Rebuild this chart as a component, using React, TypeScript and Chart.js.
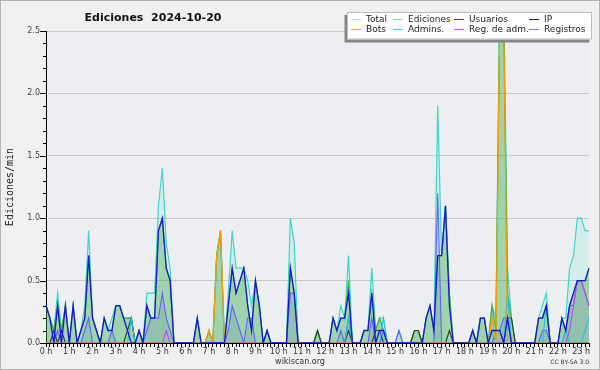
import React, { useEffect, useRef } from 'react';
import { Chart, registerables } from 'chart.js';

Chart.register(...registerables);

const TITLE = 'Ediciones  2024-10-20';
const Y_TITLE = 'Ediciones/min';
const FOOTER = 'wikiscan.org';
const LICENSE = 'CC BY-SA 3.0';

const HOUR_TICKS = ['0 h', '1 h', '2 h', '3 h', '4 h', '5 h', '6 h', '7 h', '8 h', '9 h', '10 h', '11 h',
  '12 h', '13 h', '14 h', '15 h', '16 h', '17 h', '18 h', '19 h', '20 h', '21 h', '22 h', '23 h'];
const MINUTES = ['00', '10', '20', '30', '40', '50'];
const LAST_SLOT = '23:20';

const Y_TICKS = [0, 0.1, 0.2, 0.3, 0.4, 0.5, 0.6, 0.7, 0.8, 0.9, 1.0, 1.1, 1.2, 1.3, 1.4, 1.5,
  1.6, 1.7, 1.8, 1.9, 2.0, 2.1, 2.2, 2.3, 2.4, 2.5];
const Y_MAX = 2.5;

const TOTAL = [
  0.3, 0.2, 0.1, 0.4, 0.1, 0.3, // 0 h
  0, 0.3, 0, 0.1, 0.3, 0.9, // 1 h
  0.2, 0.1, 0, 0.2, 0.1, 0.2, // 2 h
  0.3, 0.3, 0.2, 0.2, 0.2, 0, // 3 h
  0.1, 0, 0.4, 0.4, 0.4, 1.1, // 4 h
  1.4, 0.8, 0.6, 0, 0, 0, // 5 h
  0, 0, 0, 0.2, 0, 0, // 6 h
  0.1, 0, 0.7, 0.9, 0, 0.4, // 7 h
  0.9, 0.6, 0.6, 0.6, 0.5, 0.3, // 8 h
  0.5, 0.3, 0, 0.1, 0, 0, // 9 h
  0, 0, 0, 1.0, 0.8, 0, // 10 h
  0, 0, 0, 0, 0.1, 0, // 11 h
  0, 0, 0.2, 0.1, 0.3, 0.2, // 12 h
  0.7, 0, 0, 0, 0.1, 0.1, // 13 h
  0.6, 0.1, 0.2, 0.2, 0, 0, // 14 h
  0, 0.1, 0, 0, 0, 0.1, // 15 h
  0.1, 0, 0.2, 0.3, 0.1, 1.9, // 16 h
  0.7, 1.1, 0.4, 0, 0, 0, // 17 h
  0, 0, 0.1, 0, 0.2, 0.2, // 18 h
  0, 0.3, 0.2, 2.8, 2.8, 0.6, // 19 h
  0.2, 0, 0, 0, 0, 0, // 20 h
  0, 0.2, 0.3, 0.4, 0, 0, // 21 h
  0, 0.2, 0.2, 0.6, 0.7, 1.0, // 22 h
  1.0, 0.9, 0.9, // 23 h
];

const EDICIONES = [
  0.3, 0.2, 0.1, 0.3, 0.1, 0.3,
  0, 0.3, 0, 0.1, 0.2, 0.7,
  0.2, 0.1, 0, 0.2, 0.1, 0.1,
  0.3, 0.3, 0.2, 0.2, 0.2, 0,
  0.1, 0, 0.3, 0.2, 0.2, 0.9,
  1.0, 0.6, 0.5, 0, 0, 0,
  0, 0, 0, 0.2, 0, 0,
  0.1, 0, 0.7, 0.9, 0, 0.3,
  0.6, 0.4, 0.5, 0.6, 0.3, 0.1,
  0.5, 0.3, 0, 0.1, 0, 0,
  0, 0, 0, 0.6, 0.4, 0,
  0, 0, 0, 0, 0.1, 0,
  0, 0, 0.2, 0.1, 0.2, 0.2,
  0.5, 0, 0, 0, 0.1, 0.1,
  0.4, 0.1, 0.2, 0.1, 0, 0,
  0, 0, 0, 0, 0, 0.1,
  0.1, 0, 0.2, 0.3, 0.1, 0.7,
  0.7, 1.1, 0.4, 0, 0, 0,
  0, 0, 0.1, 0, 0.2, 0.2,
  0, 0.3, 0.1, 2.7, 2.6, 0.4,
  0.2, 0, 0, 0, 0, 0,
  0, 0.2, 0.2, 0.3, 0, 0,
  0, 0.2, 0.1, 0.3, 0.4, 0.5,
  0.5, 0.5, 0.6,
];

const USUARIOS = [
  0.3, 0.2, 0, 0.3, 0, 0.3,
  0, 0.3, 0, 0.1, 0.2, 0.7,
  0.2, 0.1, 0, 0.2, 0.1, 0.1,
  0.3, 0.3, 0.2, 0.1, 0, 0,
  0.1, 0, 0.3, 0.2, 0.2, 0.9,
  1.0, 0.6, 0.5, 0, 0, 0,
  0, 0, 0, 0.2, 0, 0,
  0, 0, 0, 0, 0, 0.3,
  0.6, 0.4, 0.5, 0.6, 0.3, 0.1,
  0.5, 0.3, 0, 0.1, 0, 0,
  0, 0, 0, 0.6, 0.4, 0,
  0, 0, 0, 0, 0, 0,
  0, 0, 0.2, 0.1, 0.2, 0.2,
  0.4, 0, 0, 0, 0.1, 0.1,
  0.4, 0, 0.1, 0.1, 0, 0,
  0, 0, 0, 0, 0, 0,
  0, 0, 0.2, 0.3, 0.1, 0.7,
  0.7, 1.1, 0.3, 0, 0, 0,
  0, 0, 0.1, 0, 0.2, 0.2,
  0, 0.1, 0.1, 0.1, 0, 0.2,
  0, 0, 0, 0, 0, 0,
  0, 0.2, 0.2, 0.3, 0, 0,
  0, 0.2, 0.1, 0.3, 0.4, 0.5,
  0.5, 0.5, 0.6,
];

const IP = [
  0, 0, 0.1, 0, 0.1, 0,
  0, 0, 0, 0, 0, 0,
  0, 0, 0, 0, 0, 0,
  0, 0, 0, 0.1, 0.2, 0,
  0, 0, 0, 0, 0, 0,
  0, 0, 0, 0, 0, 0,
  0, 0, 0, 0, 0, 0,
  0, 0, 0, 0, 0, 0,
  0, 0, 0, 0, 0, 0,
  0, 0, 0, 0, 0, 0,
  0, 0, 0, 0, 0, 0,
  0, 0, 0, 0, 0.1, 0,
  0, 0, 0, 0, 0, 0,
  0.1, 0, 0, 0, 0, 0,
  0, 0.1, 0.1, 0, 0, 0,
  0, 0, 0, 0, 0, 0.1,
  0.1, 0, 0, 0, 0, 0,
  0, 0, 0.1, 0, 0, 0,
  0, 0, 0, 0, 0, 0,
  0, 0, 0, 0, 0, 0.2,
  0.2, 0, 0, 0, 0, 0,
  0, 0, 0, 0, 0, 0,
  0, 0, 0, 0, 0, 0,
  0, 0, 0,
];

const BOTS = [
  0, 0, 0, 0, 0, 0,
  0, 0, 0, 0, 0, 0,
  0, 0, 0, 0, 0, 0,
  0, 0, 0, 0, 0, 0,
  0, 0, 0, 0, 0, 0,
  0, 0, 0, 0, 0, 0,
  0, 0, 0, 0, 0, 0,
  0.1, 0, 0.7, 0.9, 0, 0,
  0, 0, 0, 0, 0, 0,
  0, 0, 0, 0, 0, 0,
  0, 0, 0, 0, 0, 0,
  0, 0, 0, 0, 0, 0,
  0, 0, 0, 0, 0, 0,
  0, 0, 0, 0, 0, 0,
  0, 0, 0, 0, 0, 0,
  0, 0, 0, 0, 0, 0,
  0, 0, 0, 0, 0, 0,
  0, 0, 0, 0, 0, 0,
  0, 0, 0, 0, 0, 0,
  0, 0.2, 0, 2.6, 2.6, 0,
  0, 0, 0, 0, 0, 0,
  0, 0, 0, 0, 0, 0,
  0, 0, 0, 0, 0, 0,
  0, 0, 0,
];

const ADMINS = [
  0, 0, 0, 0, 0, 0,
  0, 0, 0, 0, 0, 0,
  0, 0, 0, 0, 0, 0,
  0, 0, 0, 0, 0.2, 0,
  0, 0, 0, 0, 0, 0,
  0, 0, 0, 0, 0, 0,
  0, 0, 0, 0, 0, 0,
  0, 0, 0, 0, 0, 0,
  0, 0, 0, 0, 0, 0,
  0, 0, 0, 0, 0, 0,
  0, 0, 0, 0, 0, 0,
  0, 0, 0, 0, 0, 0,
  0, 0, 0, 0, 0, 0,
  0.2, 0, 0, 0, 0, 0,
  0, 0, 0, 0.2, 0, 0,
  0, 0, 0, 0, 0, 0,
  0, 0, 0, 0, 0, 0,
  0, 0, 0, 0, 0, 0,
  0, 0, 0, 0, 0, 0,
  0, 0.1, 0, 0, 0, 0.4,
  0, 0, 0, 0, 0, 0,
  0, 0, 0, 0.3, 0, 0,
  0, 0, 0.1, 0, 0, 0,
  0, 0.1, 0.2,
];

const REG_ADM = [
  0, 0, 0, 0, 0, 0,
  0, 0, 0, 0, 0, 0,
  0, 0, 0, 0, 0, 0,
  0, 0, 0, 0, 0, 0,
  0, 0, 0, 0, 0, 0,
  0, 0.1, 0, 0, 0, 0,
  0, 0, 0, 0, 0, 0,
  0, 0, 0, 0, 0, 0,
  0, 0, 0, 0, 0, 0,
  0, 0, 0, 0, 0, 0,
  0, 0, 0, 0, 0, 0,
  0, 0, 0, 0, 0, 0,
  0, 0, 0, 0, 0, 0,
  0, 0, 0, 0, 0, 0,
  0, 0, 0, 0, 0, 0,
  0, 0, 0, 0, 0, 0,
  0, 0, 0, 0, 0, 0,
  0, 0, 0, 0, 0, 0,
  0, 0, 0, 0, 0, 0,
  0, 0, 0, 0, 0, 0,
  0, 0, 0, 0, 0, 0,
  0, 0, 0, 0, 0, 0,
  0, 0, 0, 0.1, 0.3, 0.5,
  0.5, 0.4, 0.3,
];

const REGISTROS = [
  0, 0, 0, 0.1, 0, 0,
  0, 0, 0, 0, 0.1, 0.2,
  0, 0, 0, 0, 0, 0.1,
  0, 0, 0, 0, 0, 0,
  0, 0, 0.1, 0.2, 0.2, 0.2,
  0.4, 0.2, 0.1, 0, 0, 0,
  0, 0, 0, 0, 0, 0,
  0, 0, 0, 0, 0, 0.1,
  0.3, 0.2, 0.1, 0, 0.2, 0.2,
  0, 0, 0, 0, 0, 0,
  0, 0, 0, 0.4, 0.4, 0,
  0, 0, 0, 0, 0, 0,
  0, 0, 0, 0, 0.1, 0,
  0.2, 0, 0, 0, 0, 0,
  0.2, 0, 0, 0.1, 0, 0,
  0, 0.1, 0, 0, 0, 0,
  0, 0, 0, 0, 0, 1.2,
  0, 0, 0, 0, 0, 0,
  0, 0, 0, 0, 0, 0,
  0, 0, 0.1, 0.1, 0.2, 0.2,
  0, 0, 0, 0, 0, 0,
  0, 0, 0.1, 0.1, 0, 0,
  0, 0, 0.1, 0.3, 0.3, 0.5,
  0.5, 0.4, 0.3,
];

// categories (10-minute slots) built from the hour/minute lists
const CATEGORIES: string[] = [];
outer: for (let h = 0; h < HOUR_TICKS.length; h++) {
  for (const m of MINUTES) {
    const slot = `${h}:${m}`;
    CATEGORIES.push(slot);
    if (slot === LAST_SLOT) break outer;
  }
}

type Series = { label: string; data: number[]; color: string; legend: string; fill?: string; order: number; width: number };

const SERIES: Series[] = [
  { label: 'Total', data: TOTAL, color: '#3fd6c6', legend: '#a6e6de', fill: 'rgba(64,224,208,0.13)', order: 8, width: 1.2 },
  { label: 'Ediciones', data: EDICIONES, color: '#44b244', legend: '#8ed68e', fill: 'rgba(50,160,50,0.33)', order: 7, width: 1.2 },
  { label: 'Usuarios', data: USUARIOS, color: '#1616d6', legend: '#3434dc', order: 1, width: 1.3 },
  { label: 'IP', data: IP, color: '#303830', legend: '#222222', order: 5, width: 1.1 },
  { label: 'Bots', data: BOTS, color: '#ff9a00', legend: '#ffa030', order: 2, width: 1.2 },
  { label: 'Admins.', data: ADMINS, color: '#22c2e6', legend: '#44c8e8', order: 4, width: 1.1 },
  { label: 'Reg. de adm.', data: REG_ADM, color: '#c644ee', legend: '#d050f0', order: 3, width: 1.1 },
  { label: 'Registros', data: REGISTROS, color: '#6262ff', legend: '#7a7aff', fill: 'rgba(70,90,170,0.14)', order: 6, width: 1.1 },
];

const isMajor = (v: number) => Math.abs(v * 2 - Math.round(v * 2)) < 1e-6;

const decor = {
  id: 'decor',
  beforeDraw(chart: any) {
    const { ctx, chartArea: a, width, height } = chart;
    ctx.save();
    ctx.fillStyle = '#f0f0f0';
    ctx.fillRect(0, 0, width, height);
    ctx.strokeStyle = '#b2b2b2';
    ctx.lineWidth = 1;
    ctx.strokeRect(0.5, 0.5, width - 1, height - 1);
    ctx.fillStyle = '#eceef1';
    ctx.fillRect(a.left, a.top, a.right - a.left, a.bottom - a.top);
    ctx.restore();
  },
  afterDraw(chart: any) {
    const { ctx, chartArea: a } = chart;
    const ys = chart.scales.y;
    ctx.save();
    // y tick marks (major / minor)
    ctx.strokeStyle = '#000';
    ctx.lineWidth = 1;
    for (const v of Y_TICKS) {
      const py = Math.round(ys.getPixelForValue(v)) + 0.5;
      const len = isMajor(v) ? 6 : 3;
      ctx.beginPath();
      ctx.moveTo(a.left - len, py);
      ctx.lineTo(a.left, py);
      ctx.stroke();
    }
    // title
    ctx.fillStyle = '#111';
    ctx.font = 'bold 11px "DejaVu Sans"';
    ctx.textAlign = 'center';
    ctx.textBaseline = 'alphabetic';
    ctx.fillText(TITLE, 153, 21);
    // legend
    const LX = 347, LY = 12, LW = 245, LH = 27.5;
    ctx.fillStyle = '#868686';
    ctx.fillRect(LX - 2.5, LY + 3, LW, LH);
    ctx.fillStyle = '#ffffff';
    ctx.fillRect(LX, LY, LW, LH);
    ctx.strokeStyle = '#bbbbbb';
    ctx.strokeRect(LX + 0.5, LY + 0.5, LW - 1, LH - 1);
    const cols = [351, 393, 454, 529];
    const rows = [19.5, 29.5];
    ctx.font = '9px "DejaVu Sans"';
    ctx.textAlign = 'left';
    ctx.textBaseline = 'middle';
    SERIES.forEach((s, k) => {
      const cx = cols[k % 4];
      const cy = rows[Math.floor(k / 4)];
      ctx.strokeStyle = s.legend;
      ctx.lineWidth = 1;
      ctx.beginPath();
      ctx.moveTo(cx, cy);
      ctx.lineTo(cx + 10, cy);
      ctx.stroke();
      ctx.fillStyle = '#222';
      ctx.fillText(s.label, cx + 15, cy);
    });
    // footer
    ctx.textBaseline = 'alphabetic';
    ctx.fillStyle = '#333';
    ctx.font = '8px "DejaVu Sans"';
    ctx.textAlign = 'center';
    ctx.fillText(FOOTER, 300, 364);
    ctx.font = '6px "DejaVu Sans"';
    ctx.textAlign = 'right';
    ctx.fillText(LICENSE, 589, 363.5);
    ctx.restore();
  },
};

export default function App() {
  const ref = useRef<HTMLCanvasElement>(null);
  useEffect(() => {
    document.body.style.margin = '0';
    const chart = new Chart(ref.current as HTMLCanvasElement, {
      type: 'line',
      data: {
        labels: CATEGORIES,
        datasets: SERIES.map((s) => ({
          label: s.label,
          data: s.data,
          borderColor: s.color,
          backgroundColor: s.fill || 'rgba(0,0,0,0)',
          fill: s.fill ? 'origin' : false,
          borderWidth: s.width,
          pointRadius: 0,
          pointHoverRadius: 0,
          tension: 0,
          order: s.order,
        })),
      },
      options: {
        responsive: false,
        animation: false,
        devicePixelRatio: 1,
        events: [],
        layout: { padding: { left: 0, right: 11, top: 31, bottom: 9 } },
        plugins: {
          legend: { display: false },
          tooltip: { enabled: false },
          title: { display: false },
        },
        scales: {
          x: {
            type: 'category',
            offset: false,
            grid: { drawOnChartArea: false, drawTicks: true, tickLength: 4, tickColor: '#000', lineWidth: 1 },
            border: { display: true, color: '#000', width: 1 },
            ticks: {
              autoSkip: false,
              maxRotation: 0,
              minRotation: 0,
              padding: 0,
              color: '#333',
              font: { family: 'DejaVu Sans', size: 8 },
              callback: (_v: any, i: number) => (i % MINUTES.length === 0 ? HOUR_TICKS[i / MINUTES.length] : ''),
            },
            afterFit: (s: any) => { s.height = 18; },
          },
          y: {
            type: 'linear',
            min: 0,
            max: Y_MAX,
            afterBuildTicks: (s: any) => { s.ticks = Y_TICKS.map((v) => ({ value: v })); },
            grid: {
              drawTicks: false,
              lineWidth: 1,
              color: (c: any) => (c.tick && c.tick.value > 0 && isMajor(c.tick.value) ? '#c8c8c8' : 'rgba(0,0,0,0)'),
            },
            border: { display: true, color: '#000', width: 1 },
            ticks: {
              autoSkip: false,
              padding: 6,
              color: '#444',
              font: { family: 'DejaVu Sans', size: 8 },
              callback: (v: any) => (isMajor(Number(v)) ? Number(v).toFixed(1) : ''),
            },
            title: {
              display: true,
              text: Y_TITLE,
              color: '#222',
              font: { family: 'DejaVu Sans Mono', size: 10 },
              padding: { top: 4, bottom: 0 },
            },
            afterFit: (s: any) => { s.width = 46; },
          },
        },
      },
      plugins: [decor],
    } as any);
    return () => chart.destroy();
  }, []);
  return (
    <div style={{ width: 600, height: 370 }}>
      <canvas ref={ref} width={600} height={370} style={{ display: 'block', width: 600, height: 370 }} />
    </div>
  );
}
